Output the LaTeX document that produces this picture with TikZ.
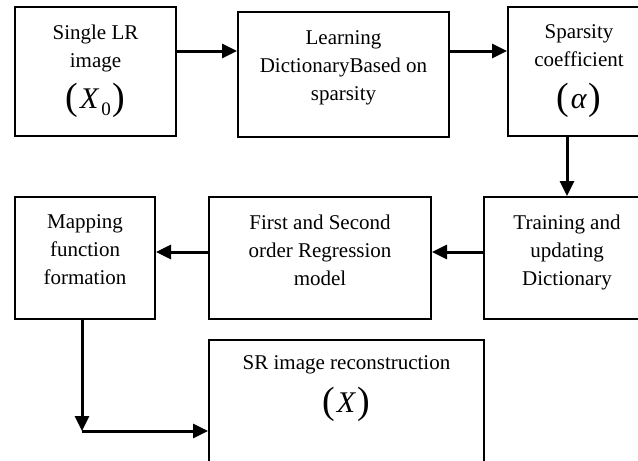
\documentclass[tikz,border=0pt]{standalone}
\usepackage{fontspec}
\setmainfont{Liberation Serif}
\usetikzlibrary{arrows.meta}

\tikzset{
  stagebox/.style={draw, line width=2pt, rectangle, inner sep=0pt},
  label text/.style={anchor=north, align=center, inner sep=0pt,
                     font=\fontsize{21}{28}\selectfont},
  symbol text/.style={anchor=base, inner sep=0pt},
  flow/.style={line width=3pt, -{Triangle[length=15pt,width=14pt]}}
}

% symbol with tall parentheses
\newcommand{\bigparen}[1]{{\fontsize{38}{38}\selectfont\raisebox{-1pt}{(}}\kern1.5pt#1\kern1.5pt{\fontsize{38}{38}\selectfont\raisebox{-1pt}{)}}}

\begin{document}
\begin{tikzpicture}[x=1pt,y=-1pt]
  \useasboundingbox (0,0) rectangle (638,461);
  \clip (0,0) rectangle (638,461);

  % stage boxes
  \node[stagebox, minimum width=161pt, minimum height=129pt] (lr)    at (95.5,71.5) {};
  \node[stagebox, minimum width=211pt, minimum height=125pt] (dict)  at (343.5,74.5) {};
  \node[stagebox, minimum width=142pt, minimum height=129pt] (spar)  at (579,71.5) {};
  \node[stagebox, minimum width=140pt, minimum height=122pt] (map)   at (85,258) {};
  \node[stagebox, minimum width=222pt, minimum height=122pt] (reg)   at (320,258) {};
  \node[stagebox, minimum width=166pt, minimum height=122pt] (train) at (567,258) {};
  \node[stagebox, minimum width=275pt, minimum height=123pt] (sr)    at (346.5,401) {};

  % box captions
  \node[label text] (lrtext)    at (95.5,24.5)  {Single LR\\image};
  \node[label text] (dicttext)  at (343.5,30.5) {Learning\\DictionaryBased on\\sparsity};
  \node[label text] (spartext)  at (579,24.5)   {Sparsity\\coefficient};
  \node[label text] (maptext)   at (85,214.5)   {Mapping\\function\\formation};
  \node[label text] (regtext)   at (320,214.5)  {First and Second\\order Regression\\model};
  \node[label text] (traintext) at (567,214.5)  {Training and\\updating\\Dictionary};
  \node[label text] (srtext)    at (346.5,355.5){SR image reconstruction};

  % symbols
  \node[symbol text] (xzero) at (95.5,108)
    {\bigparen{{\fontsize{30}{30}\selectfont\textit{X}}\kern2pt\raisebox{-7pt}{\fontsize{19}{19}\selectfont 0}}};
  \node[symbol text] (alpha) at (579,108)
    {\bigparen{{\fontsize{30}{30}\selectfont\textit{α}}}};
  \node[symbol text] (xout) at (346.5,412)
    {\bigparen{{\fontsize{30}{30}\selectfont\textit{X}}}};

  % connector rows
  \coordinate (row1) at (0,51);
  \coordinate (row2) at (0,252);
  \coordinate (corner) at (82,431);

  \draw[flow] (lr.east |- row1) -- (dict.west |- row1);
  \draw[flow] (dict.east |- row1) -- (spar.west |- row1);
  \draw[flow] (train.north |- spar.south) -- (train.north);
  \draw[flow] (train.west |- row2) -- (reg.east |- row2);
  \draw[flow] (reg.west |- row2) -- (map.east |- row2);
  \draw[flow] (map.south -| corner) -- (corner);
  \draw[flow] (corner) -- (sr.west |- corner);
\end{tikzpicture}
\end{document}
